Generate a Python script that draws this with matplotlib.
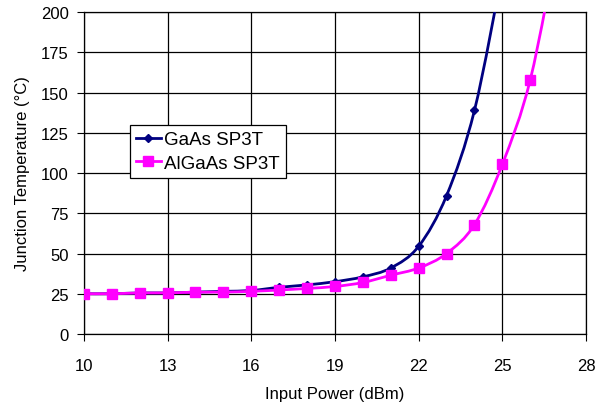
import matplotlib

matplotlib.use("Agg")
import matplotlib.pyplot as plt
from matplotlib.path import Path
from matplotlib.patches import PathPatch
from matplotlib.lines import Line2D

plt.rcParams["font.family"] = ["Liberation Sans", "DejaVu Sans"]

NAVY = "#000080"
MAGENTA = "#ff00ff"

# junction temperature vs input power
POWER = [10, 11, 12, 13, 14, 15, 16, 17, 18, 19, 20, 21, 22, 23, 24, 25, 26, 27]
GAAS = [25, 25, 25.5, 25.5, 26, 26.5, 27, 29, 30.5, 32.5, 35.5, 41, 54.5, 86, 139, 225]
ALGAAS = [25, 25, 25.5, 25.5, 26, 26, 26.5, 27.3, 28.3, 29.5, 32, 36.5, 41, 50, 68, 105.5, 158, 245]

XTICKS = [10, 13, 16, 19, 22, 25, 28]
YTICKS = [0, 25, 50, 75, 100, 125, 150, 175, 200]


def smooth_path(xs, ys, t=1 / 6):
    # Catmull-Rom style cubic Bezier through every point (spreadsheet "smoothed line")
    verts = [(xs[0], ys[0])]
    codes = [Path.MOVETO]
    n = len(xs)
    for i in range(n - 1):
        x0, y0 = (xs[i - 1], ys[i - 1]) if i > 0 else (xs[i], ys[i])
        x1, y1 = xs[i], ys[i]
        x2, y2 = xs[i + 1], ys[i + 1]
        x3, y3 = (xs[i + 2], ys[i + 2]) if i + 2 < n else (x2, y2)
        verts += [(x1 + (x2 - x0) * t, y1 + (y2 - y0) * t),
                  (x2 - (x3 - x1) * t, y2 - (y3 - y1) * t),
                  (x2, y2)]
        codes += [Path.CURVE4] * 3
    return Path(verts, codes)


fig = plt.figure(figsize=(5.95, 4.1), dpi=100)
ax = fig.add_axes([0.141, 0.183, 0.844, 0.785])

series = [
    ("GaAs SP3T", GAAS, NAVY, "D", 4.5),
    ("AlGaAs SP3T", ALGAAS, MAGENTA, "s", 6.5),
]
handles = []
for name, temps, color, marker, ms in series:
    xs = POWER[:len(temps)]
    ax.add_patch(PathPatch(smooth_path(xs, temps), facecolor="none",
                           edgecolor=color, lw=2, zorder=3))
    ax.plot(xs, temps, linestyle="none", marker=marker, ms=ms, color=color,
            markeredgecolor=color, zorder=4)
    handles.append(Line2D([], [], color=color, lw=2, marker=marker, ms=ms))

ax.set_xlim(10, 28)
ax.set_ylim(0, 200)
ax.set_xticks(XTICKS)
ax.set_yticks(YTICKS)
ax.grid(True, color="black", lw=0.9)
ax.set_axisbelow(True)
for s in ax.spines.values():
    s.set_color("black")
    s.set_linewidth(0.9)
ax.tick_params(labelsize=12, length=5, color="black", direction="out")
ax.tick_params(axis="x", pad=12)
ax.tick_params(axis="y", pad=6)
ax.set_xlabel("Input Power (dBm)", fontsize=12, labelpad=10)
ax.set_ylabel("Junction Temperature (°C)", fontsize=12, labelpad=8)

leg = ax.legend(handles, [s[0] for s in series], loc="upper left",
                bbox_to_anchor=(0.091, 0.65), fontsize=13.5, frameon=True,
                fancybox=False, edgecolor="black", framealpha=1,
                handlelength=1.3, handletextpad=0.2, borderpad=0.35,
                labelspacing=0.32, borderaxespad=0)
leg.get_frame().set_linewidth(0.9)

fig.savefig("out.png", facecolor="white")
